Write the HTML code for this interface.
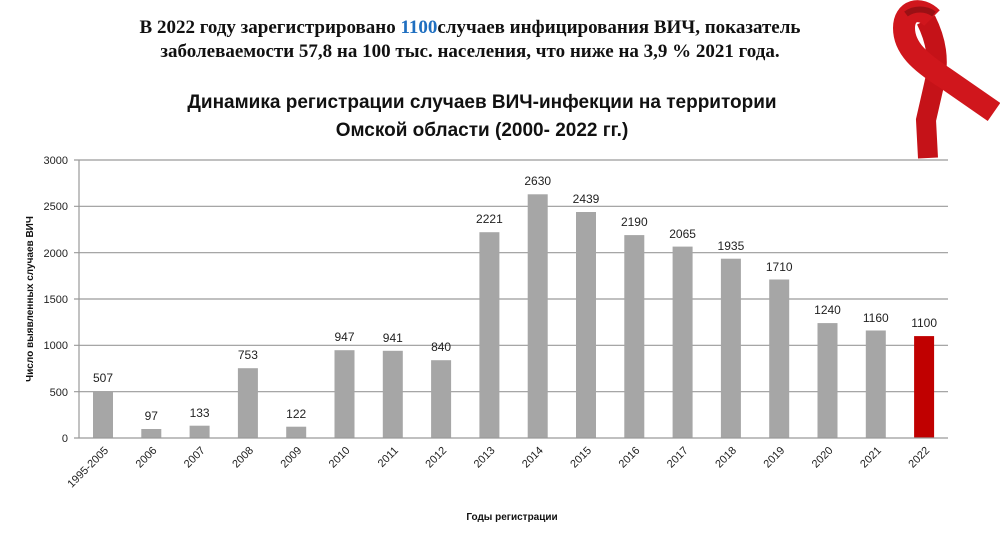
<!DOCTYPE html>
<html><head><meta charset="utf-8"><style>
html,body{margin:0;padding:0;background:#fff;width:1000px;height:559px;overflow:hidden}
</style></head><body>
<svg width="1000" height="559" viewBox="0 0 1000 559" xmlns="http://www.w3.org/2000/svg">
<rect width="1000" height="559" fill="#fff"/>
<g font-family="Liberation Serif, serif" font-weight="bold" font-size="19" fill="#111" text-anchor="middle">
<text x="470" y="33">В 2022 году зарегистрировано <tspan fill="#1f6fc0">1100</tspan>случаев инфицирования ВИЧ, показатель</text>
<text x="470" y="57">заболеваемости 57,8 на 100 тыс. населения, что ниже на 3,9 % 2021 года.</text>
</g>
<g font-family="Liberation Sans, sans-serif" font-weight="bold" font-size="19" fill="#111" text-anchor="middle">
<text x="482" y="108">Динамика регистрации случаев ВИЧ-инфекции на территории</text>
<text x="482" y="136">Омской области (2000- 2022 гг.)</text>
</g>
<!-- ribbon -->
<g fill="none" stroke-linecap="butt">
<path d="M926 20 C936 40 940 60 934 85 L926 120 L928 158" stroke="#c51218" stroke-width="20"/>
<path d="M932 18 C920 6 904 10 904 28 C904 48 920 62 945 78 L994 112" stroke="#d0161c" stroke-width="22"/>
<path d="M906 14 C914 8 926 8 934 14" stroke="#9a1014" stroke-width="6"/>
</g>
<!-- grid -->
<g stroke="#9a9a9a" stroke-width="1.2">
<line x1="74" y1="160" x2="948" y2="160"/>
<line x1="74" y1="206.3" x2="948" y2="206.3"/>
<line x1="74" y1="252.7" x2="948" y2="252.7"/>
<line x1="74" y1="299" x2="948" y2="299"/>
<line x1="74" y1="345.3" x2="948" y2="345.3"/>
<line x1="74" y1="391.7" x2="948" y2="391.7"/>
<line x1="79" y1="160" x2="79" y2="438"/>
</g>
<g font-family="Liberation Sans, sans-serif" font-size="11" fill="#222" text-anchor="end">
<text x="68" y="164">3000</text><text x="68" y="210">2500</text><text x="68" y="257">2000</text>
<text x="68" y="303">1500</text><text x="68" y="349">1000</text><text x="68" y="396">500</text><text x="68" y="442">0</text>
</g>
<text transform="translate(33,299) rotate(-90)" font-family="Liberation Sans, sans-serif" font-weight="bold" font-size="10" text-anchor="middle" fill="#111">Число выявленных случаев ВИЧ</text>
<text x="512" y="520" font-family="Liberation Sans, sans-serif" font-weight="bold" font-size="10" text-anchor="middle" fill="#111">Годы регистрации</text>
<g fill="#a6a6a6">
<rect x="93" y="391" width="20" height="47"/>
<rect x="141.3" y="429" width="20" height="9"/>
<rect x="189.6" y="425.7" width="20" height="12.3"/>
<rect x="237.9" y="368.2" width="20" height="69.8"/>
<rect x="286.2" y="426.7" width="20" height="11.3"/>
<rect x="334.5" y="350.2" width="20" height="87.8"/>
<rect x="382.8" y="350.8" width="20" height="87.2"/>
<rect x="431.1" y="360.2" width="20" height="77.8"/>
<rect x="479.4" y="232.2" width="20" height="205.8"/>
<rect x="527.7" y="194.3" width="20" height="243.7"/>
<rect x="576" y="212" width="20" height="226"/>
<rect x="624.3" y="235.1" width="20" height="202.9"/>
<rect x="672.6" y="246.6" width="20" height="191.4"/>
<rect x="720.9" y="258.7" width="20" height="179.3"/>
<rect x="769.2" y="279.5" width="20" height="158.5"/>
<rect x="817.5" y="323.1" width="20" height="114.9"/>
<rect x="865.8" y="330.5" width="20" height="107.5"/>
<rect x="914.1" y="336.1" width="20" height="101.9" fill="#c00000"/>
</g>
<line x1="74" y1="438" x2="948" y2="438" stroke="#9a9a9a" stroke-width="1.2"/>
<g font-family="Liberation Sans, sans-serif" font-size="12" fill="#222" text-anchor="middle">
<text x="103" y="382">507</text>
<text x="151.3" y="420">97</text>
<text x="199.6" y="417">133</text>
<text x="247.9" y="359">753</text>
<text x="296.2" y="418">122</text>
<text x="344.5" y="341">947</text>
<text x="392.8" y="342">941</text>
<text x="441.1" y="351">840</text>
<text x="489.4" y="223">2221</text>
<text x="537.7" y="185">2630</text>
<text x="586" y="203">2439</text>
<text x="634.3" y="226">2190</text>
<text x="682.6" y="238">2065</text>
<text x="730.9" y="250">1935</text>
<text x="779.2" y="271">1710</text>
<text x="827.5" y="314">1240</text>
<text x="875.8" y="322">1160</text>
<text x="924.1" y="327">1100</text>
</g>
<g font-family="Liberation Sans, sans-serif" font-size="11" fill="#222" text-anchor="end">
<text transform="translate(109,451) rotate(-45)">1995-2005</text>
<text transform="translate(157.3,451) rotate(-45)">2006</text>
<text transform="translate(205.6,451) rotate(-45)">2007</text>
<text transform="translate(253.9,451) rotate(-45)">2008</text>
<text transform="translate(302.2,451) rotate(-45)">2009</text>
<text transform="translate(350.5,451) rotate(-45)">2010</text>
<text transform="translate(398.8,451) rotate(-45)">2011</text>
<text transform="translate(447.1,451) rotate(-45)">2012</text>
<text transform="translate(495.4,451) rotate(-45)">2013</text>
<text transform="translate(543.7,451) rotate(-45)">2014</text>
<text transform="translate(592,451) rotate(-45)">2015</text>
<text transform="translate(640.3,451) rotate(-45)">2016</text>
<text transform="translate(688.6,451) rotate(-45)">2017</text>
<text transform="translate(736.9,451) rotate(-45)">2018</text>
<text transform="translate(785.2,451) rotate(-45)">2019</text>
<text transform="translate(833.5,451) rotate(-45)">2020</text>
<text transform="translate(881.8,451) rotate(-45)">2021</text>
<text transform="translate(930.1,451) rotate(-45)">2022</text>
</g>
</svg>
</body></html>
